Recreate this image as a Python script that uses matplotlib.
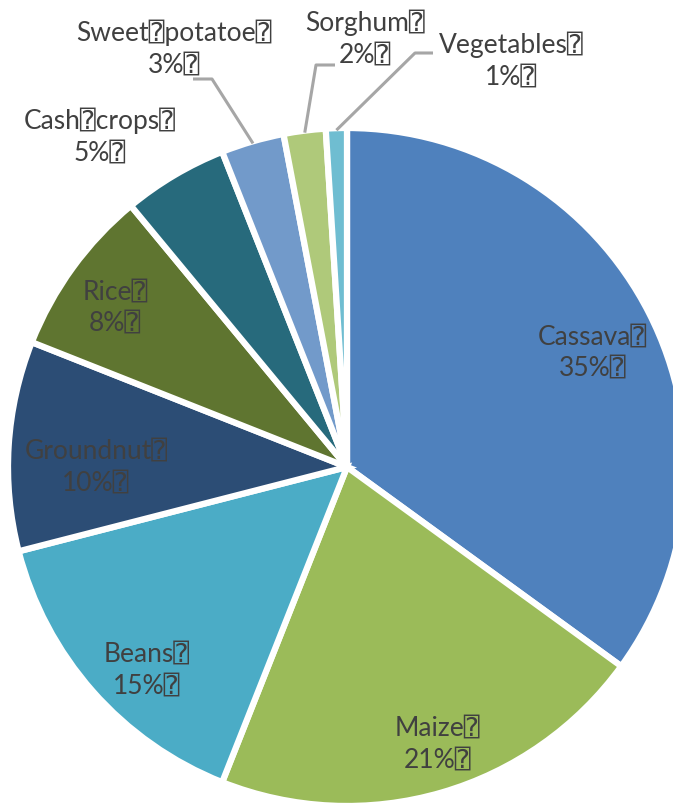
import numpy as np
import matplotlib
matplotlib.use("Agg")
from matplotlib import pyplot as plt

# crop shares (percent of cultivated area), clockwise from 12 o'clock
crops = ["Cassava", "Maize", "Beans", "Groundnut", "Rice",
         "Cash\u2370crops", "Sweet\u2370potatoe", "Sorghum", "Vegetables"]
shares = [35, 21, 15, 10, 8, 5, 3, 2, 1]
colors = ["#4F81BD", "#9BBB59", "#4BACC6", "#2C4D75", "#5F7530",
          "#276A7C", "#729ACA", "#AFC97A", "#6FBDD1"]

W, H = 673, 805
cx, cy = 347, H - 467
R = 339

plt.rcParams['font.family'] = ['Lato', 'DejaVu Sans', 'DejaVu Sans Mono']

fig = plt.figure(figsize=(W / 100, H / 100), dpi=100)
ax = fig.add_axes([0, 0, 1, 1])
wedges, _ = ax.pie(shares, colors=colors, startangle=90, counterclock=False,
                   radius=R, center=(cx, cy),
                   wedgeprops=dict(edgecolor='white', linewidth=4.5))
ax.set_xlim(0, W)
ax.set_ylim(0, H)
ax.set_aspect('equal')
ax.axis('off')

tc = '#404040'
fs = 19

def mid_angle(w):
    return np.deg2rad((w.theta1 + w.theta2) / 2)

# labels inside the big slices: (fraction of radius, angle nudge in degrees)
inside = {0: (0.80, -2.0), 1: (0.86, 1.8), 2: (0.84, 4.0),
          3: (0.74, 3.6), 4: (0.83, 1.5)}
for i, (frac, nudge) in inside.items():
    a = mid_angle(wedges[i]) + np.deg2rad(nudge)
    x = cx + frac * R * np.cos(a)
    y = cy + frac * R * np.sin(a)
    ax.text(x, y, f"{crops[i]}\u2370\n{shares[i]}%\u2370", ha='center', va='center',
            fontsize=fs, color=tc, linespacing=1.33)

# outside labels: text centre and leader-line elbow (pixels from top-left)
outside = {
    5: ((100, 137), None),
    6: ((174, 49), [(193, 79), (212, 79)]),
    7: ((365, 39), [(335, 65), (316, 65)]),
    8: ((511, 61), [(433, 53), (415, 53)]),
}
for i, (pos, elbow) in outside.items():
    ax.text(pos[0], H - pos[1], f"{crops[i]}\u2370\n{shares[i]}%\u2370",
            ha='center', va='center', fontsize=fs, color=tc, linespacing=1.33)
    if elbow:
        a = mid_angle(wedges[i])
        ex = cx + (R - 2) * np.cos(a)
        ey = cy + (R - 2) * np.sin(a)
        xs = [p[0] for p in elbow] + [ex]
        ys = [H - p[1] for p in elbow] + [ey]
        ax.plot(xs, ys, color='#A6A6A6', lw=2.2, solid_capstyle='butt')

fig.savefig("out.png", dpi=100)
